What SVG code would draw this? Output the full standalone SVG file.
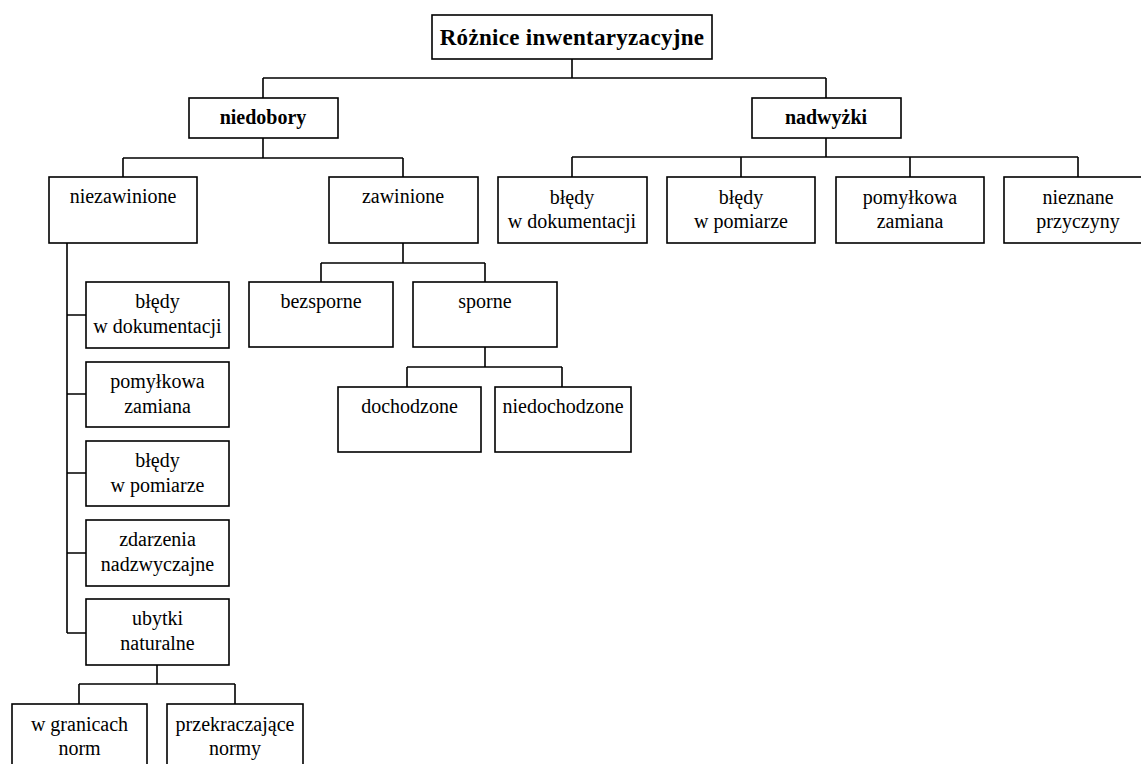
<svg xmlns="http://www.w3.org/2000/svg" width="1141" height="764" viewBox="0 0 1141 764">
<style>
rect{fill:#fff;stroke:#000;stroke-width:1.6}
#connectors path{fill:none;stroke:#000;stroke-width:1.6}
text{font-family:"Liberation Serif","Times New Roman",serif;font-size:20px;text-anchor:middle;fill:#000}
.b{font-weight:bold}
.root{font-size:23px;letter-spacing:0.3px}
</style>
<rect x="0" y="0" width="1141" height="764" style="stroke:none"/>
<g id="connectors">
<path d="M572 59V78M263 78H826M263 78V98M826 78V98"/>
<path d="M263 138V158M123 158H403M123 158V177M403 158V177"/>
<path d="M826 138V157M572 157H1078M572 157V177M741 157V177M910 157V177M1078 157V177"/>
<path d="M67 243V633M67 315H86M67 394H86M67 473H86M67 553H86M67 633H86"/>
<path d="M403 243V263M321 263H485M321 263V282M485 263V282"/>
<path d="M485 347V367M407 367H562M407 367V387M562 367V387"/>
<path d="M157 665V684M79 684H235M79 684V704M235 684V704"/>
</g>
<g id="root"><rect x="432" y="15" width="280" height="44"/><text class="b root" x="572" y="45">Różnice inwentaryzacyjne</text></g>
<g id="niedobory"><rect x="189" y="98" width="149" height="40"/><text class="b" x="263" y="124">niedobory</text></g>
<g id="nadwyzki"><rect x="752" y="98" width="149" height="40"/><text class="b" x="826" y="124">nadwyżki</text></g>
<g id="niezawinione"><rect x="49" y="177" width="148" height="66"/><text x="123" y="203">niezawinione</text></g>
<g id="zawinione"><rect x="329" y="177" width="149" height="66"/><text x="403" y="203">zawinione</text></g>
<g id="n-bledy-dok"><rect x="498" y="177" width="149" height="66"/><text x="572" y="204">błędy</text><text x="572" y="228">w dokumentacji</text></g>
<g id="n-bledy-pom"><rect x="667" y="177" width="148" height="66"/><text x="741" y="204">błędy</text><text x="741" y="228">w pomiarze</text></g>
<g id="n-pomylkowa"><rect x="836" y="177" width="148" height="66"/><text x="910" y="204">pomyłkowa</text><text x="910" y="228">zamiana</text></g>
<g id="n-nieznane"><rect x="1004" y="177" width="150" height="66"/><text x="1078" y="204">nieznane</text><text x="1078" y="228">przyczyny</text></g>
<g id="l-bledy-dok"><rect x="86" y="282" width="143" height="66"/><text x="157.5" y="308">błędy</text><text x="157.5" y="333">w dokumentacji</text></g>
<g id="l-pomylkowa"><rect x="86" y="362" width="143" height="65"/><text x="157.5" y="388">pomyłkowa</text><text x="157.5" y="413">zamiana</text></g>
<g id="l-bledy-pom"><rect x="86" y="441" width="143" height="65"/><text x="157.5" y="467">błędy</text><text x="157.5" y="492">w pomiarze</text></g>
<g id="l-zdarzenia"><rect x="86" y="520" width="143" height="66"/><text x="157.5" y="546">zdarzenia</text><text x="157.5" y="571">nadzwyczajne</text></g>
<g id="l-ubytki"><rect x="86" y="599" width="143" height="66"/><text x="157.5" y="625">ubytki</text><text x="157.5" y="650">naturalne</text></g>
<g id="bezsporne"><rect x="249" y="282" width="144" height="65"/><text x="321" y="308">bezsporne</text></g>
<g id="sporne"><rect x="413" y="282" width="144" height="65"/><text x="485" y="308">sporne</text></g>
<g id="dochodzone"><rect x="338" y="387" width="143" height="65"/><text x="409.5" y="413">dochodzone</text></g>
<g id="niedochodzone"><rect x="495" y="387" width="136" height="65"/><text x="563" y="413">niedochodzone</text></g>
<g id="w-granicach"><rect x="12" y="704" width="135" height="70"/><text x="79.5" y="731">w granicach</text><text x="79.5" y="755">norm</text></g>
<g id="przekraczajace"><rect x="167" y="704" width="136" height="70"/><text x="235" y="731">przekraczające</text><text x="235" y="755">normy</text></g>
</svg>
